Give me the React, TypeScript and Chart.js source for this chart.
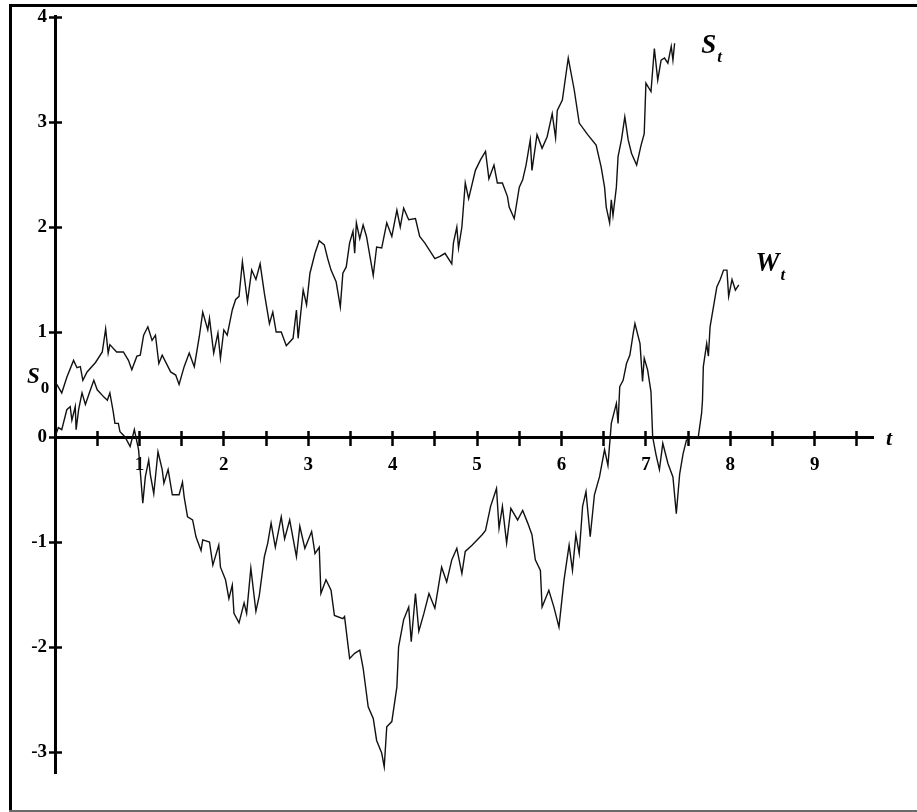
import React, { useEffect, useRef } from 'react';
import { Chart, registerables } from 'chart.js';

Chart.register(...registerables);

// S_t path (time, value)
const sTime = [
  0, 0.08, 0.14, 0.22, 0.26, 0.30, 0.33, 0.38, 0.48, 0.56, 0.60, 0.63, 0.65, 0.73, 0.81, 0.87, 0.91, 0.97, 1.01, 1.05,
  1.10, 1.15, 1.19, 1.23, 1.27, 1.37, 1.43, 1.47, 1.53, 1.59, 1.65, 1.71, 1.75, 1.81, 1.83, 1.88, 1.93, 1.96, 2.00, 2.04,
  2.10, 2.14, 2.18, 2.22, 2.28, 2.33, 2.38, 2.43, 2.48, 2.54, 2.58, 2.62, 2.68, 2.74, 2.82, 2.86, 2.88, 2.94, 2.98, 3.02,
  3.08, 3.13, 3.19, 3.23, 3.27, 3.33, 3.38, 3.41, 3.45, 3.49, 3.53, 3.55, 3.57, 3.61, 3.65, 3.69, 3.77, 3.81, 3.87, 3.93,
  3.99, 4.05, 4.09, 4.13, 4.19, 4.27, 4.32, 4.38, 4.50, 4.56, 4.62, 4.70, 4.72, 4.76, 4.78, 4.82, 4.86, 4.90, 4.98, 5.04,
  5.10, 5.14, 5.20, 5.24, 5.30, 5.36, 5.38, 5.44, 5.50, 5.54, 5.58, 5.63, 5.65, 5.71, 5.77, 5.83, 5.89, 5.93, 5.95, 6.01,
  6.08, 6.15, 6.21, 6.31, 6.41, 6.47, 6.51, 6.53, 6.57, 6.59, 6.61, 6.65, 6.67, 6.71, 6.75, 6.79, 6.83, 6.89, 6.94, 6.98,
  7.00, 7.06, 7.10, 7.14, 7.18, 7.22, 7.26, 7.30, 7.32, 7.34,
];
const sValue = [
  0.53, 0.42, 0.57, 0.73, 0.66, 0.67, 0.54, 0.62, 0.71, 0.81, 1.03, 0.80, 0.88, 0.81, 0.81, 0.73, 0.64, 0.77, 0.78, 0.97,
  1.05, 0.92, 0.97, 0.70, 0.78, 0.62, 0.59, 0.50, 0.67, 0.80, 0.67, 0.96, 1.19, 1.02, 1.13, 0.80, 0.99, 0.75, 1.02, 0.97,
  1.21, 1.31, 1.34, 1.67, 1.29, 1.59, 1.50, 1.65, 1.37, 1.08, 1.19, 1.00, 1.00, 0.87, 0.94, 1.21, 0.94, 1.40, 1.26, 1.56,
  1.75, 1.87, 1.83, 1.70, 1.59, 1.48, 1.24, 1.56, 1.62, 1.85, 1.96, 1.75, 2.04, 1.89, 2.02, 1.91, 1.54, 1.81, 1.80, 2.04,
  1.91, 2.16, 2.00, 2.18, 2.07, 2.08, 1.91, 1.85, 1.70, 1.72, 1.75, 1.65, 1.85, 2.00, 1.80, 2.00, 2.42, 2.27, 2.54, 2.64,
  2.72, 2.46, 2.59, 2.42, 2.42, 2.29, 2.19, 2.08, 2.38, 2.45, 2.59, 2.83, 2.54, 2.88, 2.75, 2.86, 3.08, 2.85, 3.11, 3.21,
  3.61, 3.31, 2.99, 2.88, 2.78, 2.57, 2.38, 2.19, 2.04, 2.26, 2.11, 2.38, 2.67, 2.83, 3.05, 2.83, 2.70, 2.59, 2.77, 2.89,
  3.37, 3.29, 3.70, 3.40, 3.59, 3.61, 3.56, 3.72, 3.59, 3.75,
];

// W_t path (time, value)
const wTime = [
  0, 0.04, 0.08, 0.14, 0.18, 0.20, 0.24, 0.25, 0.28, 0.32, 0.36, 0.42, 0.46, 0.50, 0.58, 0.62, 0.65, 0.69, 0.71, 0.75,
  0.77, 0.83, 0.89, 0.94, 0.99, 1.04, 1.07, 1.11, 1.13, 1.17, 1.22, 1.27, 1.29, 1.34, 1.39, 1.47, 1.51, 1.53, 1.57, 1.63,
  1.67, 1.73, 1.75, 1.83, 1.87, 1.94, 1.96, 2.02, 2.06, 2.10, 2.12, 2.18, 2.24, 2.27, 2.32, 2.38, 2.42, 2.48, 2.52, 2.56,
  2.61, 2.68, 2.72, 2.78, 2.86, 2.90, 2.96, 3.04, 3.08, 3.13, 3.15, 3.21, 3.27, 3.31, 3.41, 3.43, 3.49, 3.55, 3.61, 3.65,
  3.71, 3.77, 3.81, 3.87, 3.90, 3.93, 3.99, 4.05, 4.07, 4.13, 4.19, 4.22, 4.27, 4.31, 4.37, 4.43, 4.50, 4.58, 4.64, 4.70,
  4.76, 4.82, 4.86, 4.94, 5.06, 5.10, 5.16, 5.23, 5.26, 5.30, 5.35, 5.40, 5.48, 5.54, 5.60, 5.65, 5.69, 5.75, 5.77, 5.85,
  5.91, 5.97, 6.03, 6.09, 6.13, 6.17, 6.21, 6.25, 6.29, 6.34, 6.39, 6.45, 6.51, 6.55, 6.59, 6.65, 6.67, 6.69, 6.73, 6.77,
  6.81, 6.85, 6.87, 6.93, 6.96, 6.98, 7.02, 7.06, 7.08, 7.12, 7.16, 7.20, 7.26, 7.32, 7.36, 7.40, 7.44, 7.48, 7.56, 7.62,
  7.66, 7.67, 7.68, 7.72, 7.74, 7.76, 7.80, 7.84, 7.88, 7.92, 7.96, 7.98, 8.02, 8.06, 8.10,
];
const wValue = [
  0, 0.09, 0.07, 0.26, 0.29, 0.16, 0.29, 0.07, 0.26, 0.42, 0.31, 0.45, 0.54, 0.45, 0.38, 0.35, 0.42, 0.24, 0.13, 0.13,
  0.05, 0.00, -0.09, 0.07, -0.12, -0.63, -0.38, -0.22, -0.36, -0.54, -0.14, -0.31, -0.44, -0.31, -0.55, -0.55, -0.43, -0.57, -0.76, -0.79,
  -0.95, -1.08, -0.98, -1.00, -1.22, -1.03, -1.24, -1.36, -1.54, -1.41, -1.68, -1.77, -1.58, -1.68, -1.25, -1.66, -1.51, -1.14, -1.01, -0.82,
  -1.05, -0.76, -0.97, -0.79, -1.14, -0.85, -1.06, -0.90, -1.11, -1.05, -1.49, -1.36, -1.46, -1.70, -1.73, -1.71, -2.11, -2.06, -2.03, -2.20,
  -2.57, -2.68, -2.89, -3.01, -3.14, -2.76, -2.71, -2.38, -2.00, -1.74, -1.62, -1.95, -1.49, -1.85, -1.68, -1.49, -1.63, -1.24, -1.38, -1.17,
  -1.06, -1.30, -1.09, -1.03, -0.93, -0.89, -0.66, -0.49, -0.87, -0.66, -1.01, -0.68, -0.79, -0.70, -0.82, -0.93, -1.17, -1.27, -1.62, -1.46,
  -1.62, -1.81, -1.36, -1.03, -1.27, -0.93, -1.11, -0.66, -0.52, -0.95, -0.55, -0.38, -0.12, -0.27, 0.13, 0.32, 0.13, 0.48, 0.54, 0.70,
  0.78, 0.99, 1.08, 0.89, 0.53, 0.75, 0.64, 0.43, 0.00, -0.17, -0.31, -0.06, -0.25, -0.38, -0.73, -0.35, -0.16, -0.03, 0.00, 0.00,
  0.23, 0.35, 0.67, 0.89, 0.77, 1.05, 1.24, 1.43, 1.50, 1.59, 1.59, 1.34, 1.50, 1.40, 1.45,
];

// axes
const X_MIN = 0;
const X_MAX = 9.69;
const Y_MIN = -3.2;
const Y_MAX = 4.01;
const xLabeledTicks = [1, 2, 3, 4, 5, 6, 7, 8, 9];
const yLabeledTicks = [-3, -2, -1, 0, 1, 2, 3, 4];

// curve captions anchored in data units
const sCaptionAt = [7.655, 3.657];
const wCaptionAt = [8.298, 1.581];
const s0CaptionValue = 0.514;

const SERIF = '"Liberation Serif", "DejaVu Serif", serif';

function drawSub(ctx: CanvasRenderingContext2D, main: string, sub: string, x: number, y: number, mainSize: number, subSize: number, subDrop: number, subStyle: string) {
  ctx.font = `italic bold ${mainSize}px ${SERIF}`;
  ctx.fillText(main, x, y);
  const w = ctx.measureText(main).width;
  ctx.font = `${subStyle} bold ${subSize}px ${SERIF}`;
  ctx.fillText(sub, x + w + 1, y + subDrop);
}

const decor = {
  id: 'decor',
  beforeDraw(chart: any) {
    const ctx = chart.ctx as CanvasRenderingContext2D;
    ctx.save();
    ctx.fillStyle = '#fff';
    ctx.fillRect(0, 0, chart.width, chart.height);
    ctx.strokeStyle = '#000';
    ctx.lineWidth = 3;
    ctx.beginPath();
    ctx.moveTo(10.5, 812);
    ctx.lineTo(10.5, 5.5);
    ctx.lineTo(917, 5.5);
    ctx.stroke();
    ctx.strokeStyle = '#6a6a6a';
    ctx.lineWidth = 2;
    ctx.beginPath();
    ctx.moveTo(9, 811);
    ctx.lineTo(917, 811);
    ctx.stroke();
    ctx.restore();
  },
  afterDraw(chart: any) {
    const ctx = chart.ctx as CanvasRenderingContext2D;
    const xs = chart.scales.x;
    const ys = chart.scales.y;
    ctx.save();
    ctx.fillStyle = '#000';
    ctx.textAlign = 'left';
    ctx.textBaseline = 'alphabetic';
    drawSub(ctx, 'S', 't', xs.getPixelForValue(sCaptionAt[0]), ys.getPixelForValue(sCaptionAt[1]), 27, 17, 9, 'italic');
    drawSub(ctx, 'W', 't', xs.getPixelForValue(wCaptionAt[0]), ys.getPixelForValue(wCaptionAt[1]), 27, 17, 9, 'italic');
    drawSub(ctx, 'S', '0', chart.chartArea.left - 28, ys.getPixelForValue(s0CaptionValue), 23, 17, 10, 'normal');
    ctx.font = `italic bold 22px ${SERIF}`;
    ctx.fillText('t', chart.chartArea.right + 13, ys.getPixelForValue(0) + 8);
    ctx.restore();
  },
};

export default function App() {
  const ref = useRef<HTMLCanvasElement | null>(null);

  useEffect(() => {
    document.body.style.margin = '0';
    document.body.style.overflow = 'hidden';
    const canvas = ref.current;
    if (!canvas) return;
    const tickFont = { family: SERIF, size: 19, weight: 'bold' as const };
    const chart = new Chart(canvas, {
      type: 'line',
      data: {
        datasets: [
          {
            label: 'S_t',
            data: sTime.map((t, i) => ({ x: t, y: sValue[i] })),
            borderColor: '#111',
            borderWidth: 1.4,
            pointRadius: 0,
            tension: 0,
            fill: false,
          },
          {
            label: 'W_t',
            data: wTime.map((t, i) => ({ x: t, y: wValue[i] })),
            borderColor: '#111',
            borderWidth: 1.4,
            pointRadius: 0,
            tension: 0,
            fill: false,
          },
        ],
      },
      options: {
        responsive: false,
        animation: false,
        layout: { padding: { top: 16, right: 44, bottom: 39, left: 0 } },
        plugins: { legend: { display: false }, tooltip: { enabled: false }, title: { display: false } },
        events: [],
        scales: {
          x: {
            type: 'linear',
            axis: 'x',
            min: X_MIN,
            max: X_MAX,
            position: { y: 0 } as any,
            afterFit: (s: any) => { s.height = 0; },
            border: { display: true, color: '#000', width: 3 },
            grid: { drawOnChartArea: false, drawTicks: true, tickLength: 7, tickWidth: 2.5, tickColor: '#000' },
            ticks: {
              stepSize: 0.5,
              includeBounds: false,
              autoSkip: false,
              maxRotation: 0,
              minRotation: 0,
              padding: 10,
              color: '#000',
              font: tickFont,
              callback: (v: any) => (xLabeledTicks.includes(Number(v)) ? String(v) : ''),
            },
          },
          x2: {
            type: 'linear',
            axis: 'x',
            min: X_MIN,
            max: X_MAX,
            position: { y: 0 } as any,
            afterFit: (s: any) => { s.height = 0; },
            border: { display: false },
            grid: { drawOnChartArea: false, drawTicks: true, tickLength: -6, tickWidth: 2.5, tickColor: '#000' },
            ticks: { stepSize: 0.5, includeBounds: false, autoSkip: false, display: false },
          },
          y: {
            type: 'linear',
            axis: 'y',
            position: 'left',
            min: Y_MIN,
            max: Y_MAX,
            afterFit: (s: any) => { s.width = 55; },
            border: { display: true, color: '#000', width: 3 },
            grid: { drawOnChartArea: false, drawTicks: true, tickLength: 6, tickWidth: 2.5, tickColor: '#000' },
            ticks: {
              stepSize: 1,
              includeBounds: false,
              autoSkip: false,
              padding: 2,
              color: '#000',
              font: tickFont,
              callback: (v: any) => (yLabeledTicks.includes(Number(v)) ? String(v) : ''),
            },
          },
          y2: {
            type: 'linear',
            axis: 'y',
            position: { x: 0 } as any,
            min: Y_MIN,
            max: Y_MAX,
            afterFit: (s: any) => { s.width = 0; },
            border: { display: false },
            grid: { drawOnChartArea: false, drawTicks: true, tickLength: -7, tickWidth: 2.5, tickColor: '#000' },
            ticks: { stepSize: 1, includeBounds: false, autoSkip: false, display: false },
          },
        },
      },
      plugins: [decor],
    });
    return () => chart.destroy();
  }, []);

  return <canvas ref={ref} width={917} height={812} style={{ display: 'block' }} />;
}
